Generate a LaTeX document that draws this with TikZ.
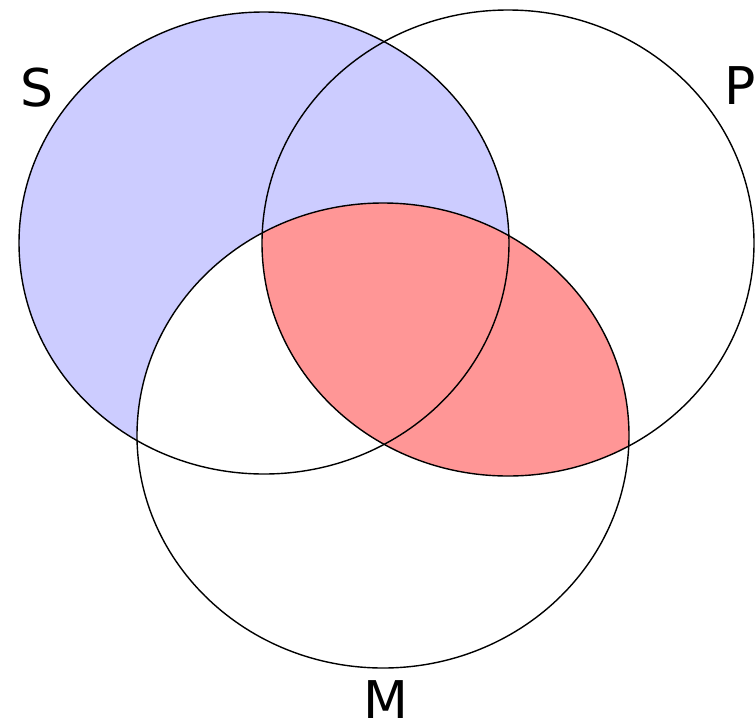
\documentclass[tikz,border=0pt]{standalone}
\usepackage{fontspec}
\setmainfont{DejaVu Sans}
\definecolor{sblue}{RGB}{204,204,255}
\definecolor{pred}{RGB}{255,150,150}
\tikzset{
  ring/.style={draw=black, line width=1.4pt},
  lab/.style={font=\fontsize{52}{52}\selectfont, inner sep=0pt}
}
\begin{document}
\begin{tikzpicture}[x=1pt,y=-1pt]
\useasboundingbox (0,0) rectangle (755,724);
% S minus M : blue
\fill[sblue] (264,243) ellipse [x radius=245, y radius=231];
\fill[white] (383,435.5) ellipse [x radius=246, y radius=232.5];
% P cap M : red
\begin{scope}
  \clip (508,243) ellipse [x radius=246, y radius=233];
  \fill[pred] (383,435.5) ellipse [x radius=246, y radius=232.5];
\end{scope}
\draw[ring] (264,243) ellipse [x radius=245, y radius=231];
\draw[ring] (508,243) ellipse [x radius=246, y radius=233];
\draw[ring] (383,435.5) ellipse [x radius=246, y radius=232.5];
\node[lab] (s) at (37,88) {S};
\node[lab] (p) at (740,86) {P};
\node[lab] (m) at (386,700) {M};
\end{tikzpicture}
\end{document}
